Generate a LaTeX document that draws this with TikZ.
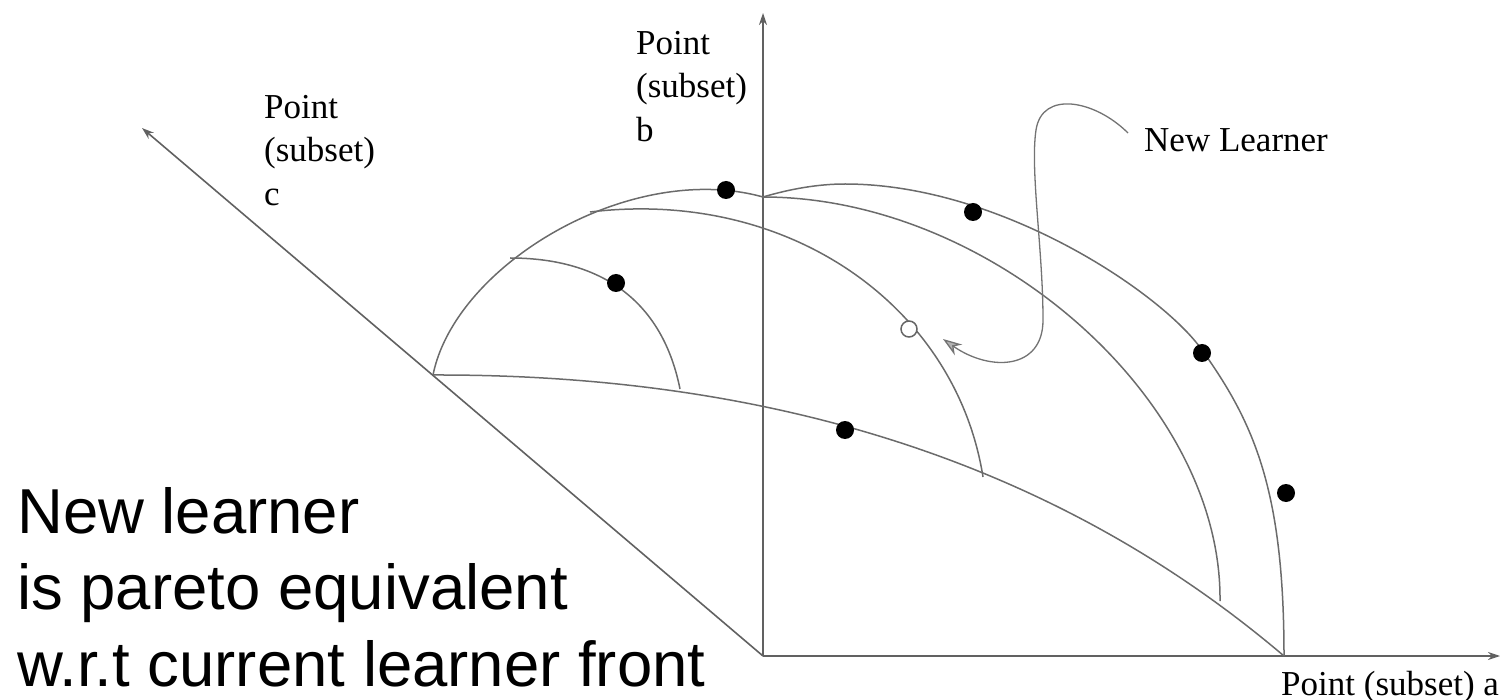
\documentclass[tikz,border=0pt]{standalone}
\usepackage{fontspec}
\setmainfont{Liberation Serif}
\newfontfamily\bigsans{Liberation Sans}
\usetikzlibrary{arrows.meta}
\begin{document}
\begin{tikzpicture}[x=1pt,y=-1pt,
  axisline/.style={draw=black!62, line width=1.6pt},
  surf/.style={draw=black!58, line width=1.5pt, line join=round},
  pointer/.style={draw=black!55, line width=1.3pt},
  fdot/.style={circle, fill=black, minimum size=18pt, inner sep=0pt},
  odot/.style={circle, fill=white, draw=black!60, line width=1.5pt, minimum size=16pt, inner sep=0pt},
  serif/.style={font=\fontsize{35}{43.5}\selectfont, inner sep=0pt, align=left},
  bigtext/.style={font=\bigsans\fontsize{63.5}{76.5}\selectfont, inner sep=0pt, align=left}]
\useasboundingbox (0,0) rectangle (1502,700);
% axes
\coordinate (O) at (763,656);
\coordinate (aTip) at (1500,656);
\coordinate (bTip) at (763,13);
\coordinate (cTip) at (142,128);
\draw[axisline, -{Stealth[length=12pt,width=8pt]}] (O) -- (aTip);
\draw[axisline, -{Stealth[length=12pt,width=8pt]}] (O) -- (bTip);
\draw[axisline, -{Stealth[length=12pt,width=8pt]}] (O) -- (cTip);
% corners of the outer front
\coordinate (cC) at (433,375);
\coordinate (cB) at (763,197);
\coordinate (cA) at (1284,656);
\coordinate (bTop) at (845,184);
\coordinate (bMid) at (1202,350);
% outer front
\draw[surf] (cC) .. controls (455,265) and (630,160) .. (cB);
\draw[surf] (cB) .. controls (790,189) and (818,184) .. (bTop)
  .. controls (1000,184) and (1162,293) .. (bMid)
  .. controls (1254,423) and (1284,490) .. (cA);
\draw[surf] (cC) .. controls (783,374) and (1064,469) .. (cA);
% inner fronts
\draw[surf] (cB) .. controls (991,197) and (1222,399) .. (1220,601);
\draw[surf] (590,212) .. controls (790,188) and (956,307) .. (983,477);
\draw[surf] (510,258) .. controls (605,258) and (663,304) .. (680,389);
% points
\node[fdot] (p1) at (726,190) {};
\node[fdot] (p2) at (616,283) {};
\node[fdot] (p3) at (973,212) {};
\node[fdot] (p4) at (1202,353) {};
\node[fdot] (p5) at (1286,493) {};
\node[fdot] (p6) at (845,430) {};
\node[odot] (newp) at (909,329) {};
% labels
\node[serif, anchor=north west] (lc) at (264,95) {Point\\(subset)\\c};
\node[serif, anchor=north west] (lb) at (636,31) {Point\\(subset)\\b};
\node[serif, anchor=base west] (la) at (1281,695) {Point (subset) a};
\node[serif, anchor=base west] (nl) at (1144,152) {New Learner};
% pointer to new learner
\coordinate (nlStart) at (1128,133);
\coordinate (arrTip) at (943,339);
\draw[pointer, -{Stealth[length=19pt,width=13pt,fill=black!30]}]
  (nlStart) .. controls (1095,100) and (1042,90) .. (1036,130)
  .. controls (1030,170) and (1043,250) .. (1043,320)
  .. controls (1043,370) and (990,372) .. (arrTip);
% caption
\node[bigtext, anchor=north west] (cap) at (17,487) {New learner\\is pareto equivalent\\w.r.t current learner front};
\end{tikzpicture}
\end{document}
